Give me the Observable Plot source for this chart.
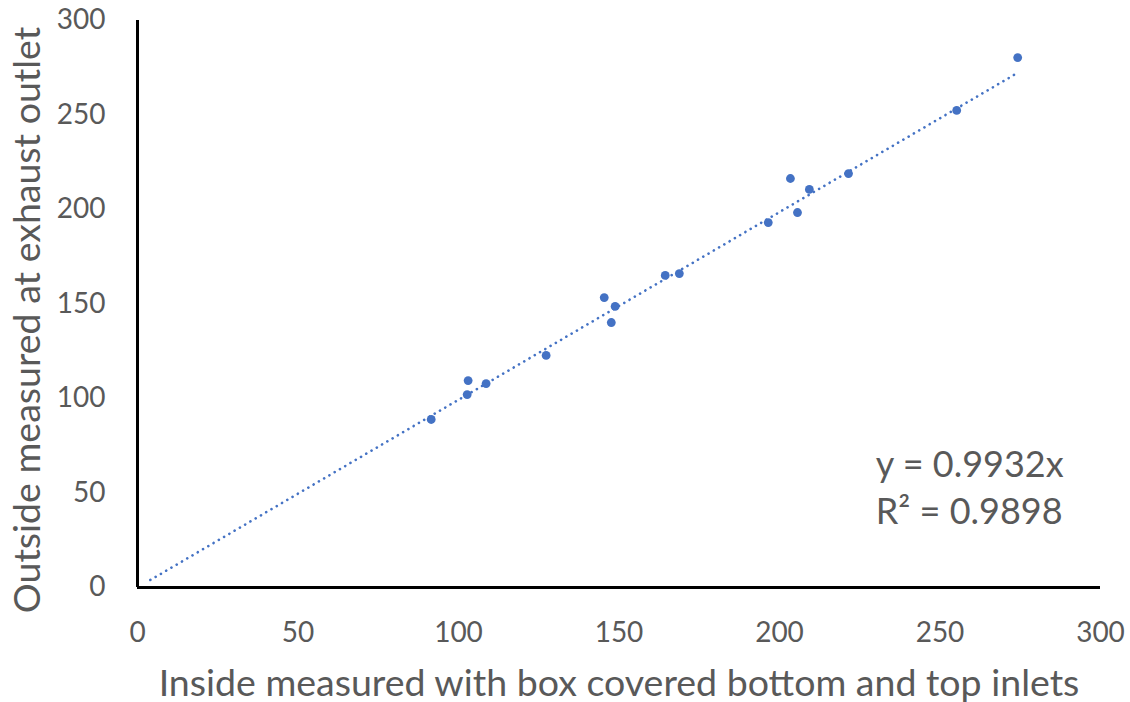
<!DOCTYPE html>
<html>
<head>
<meta charset="utf-8">
<script src="https://cdn.jsdelivr.net/npm/d3@7"></script>
<script src="https://cdn.jsdelivr.net/npm/@observablehq/plot@0.6"></script>
<style>
  html, body { margin: 0; padding: 0; background: #fff; }
  #chart svg { display: block; }
</style>
</head>
<body>
<div id="chart"></div>
<script>
const insideX = [91.5, 103.0, 102.7, 108.6, 127.3, 145.4, 148.8, 147.6, 164.4, 168.8, 196.5, 203.4, 205.6, 209.3, 221.5, 255.2, 274.2];
const outsideY = [88.9, 109.5, 102.1, 107.9, 122.8, 153.4, 148.7, 140.2, 165.1, 166.1, 193.1, 216.4, 198.4, 210.6, 219.0, 252.4, 280.4];
const trendSlope = 0.9932;
const trendRange = [4, 274];
const tickValues = [0, 50, 100, 150, 200, 250, 300];
const annotationLines = ["y = 0.9932x", "R² = 0.9898"];
const xTitle = "Inside measured with box covered bottom and top inlets";
const yTitle = "Outside measured at exhaust outlet";

const points = insideX.map((x, i) => ({x, y: outsideY[i]}));
const trend = trendRange.map(x => ({x, y: trendSlope * x}));
const annot = [
  {x: 230, y: 64.5, text: annotationLines[0]},
  {x: 230, y: 39.5, text: annotationLines[1]}
];

const blue = "#4472C4";
const grey = "#595959";
const font = "Lato, 'Open Sans', sans-serif";

const chart = Plot.plot({
  width: 1130,
  height: 702,
  marginLeft: 137,
  marginRight: 30,
  marginTop: 20,
  marginBottom: 115,
  style: {fontFamily: font, color: grey, background: "#fff"},
  x: {domain: [0, 300]},
  y: {domain: [0, 300]},
  marks: [
    Plot.line(trend, {x: "x", y: "y", stroke: blue, strokeWidth: 2.6, strokeDasharray: "0.1 6", strokeLinecap: "round"}),
    Plot.dot(points, {x: "x", y: "y", r: 4.4, fill: blue, stroke: "none"}),
    Plot.ruleY([0], {stroke: "#000", strokeWidth: 3}),
    Plot.ruleX([0], {stroke: "#000", strokeWidth: 3}),
    Plot.axisX(tickValues, {tickSize: 0, tickPadding: 35, fontSize: 28, fill: grey, label: null}),
    Plot.axisY(tickValues, {tickSize: 0, tickPadding: 32, fontSize: 28, fill: grey, label: null}),
    Plot.text([xTitle], {frameAnchor: "bottom", dy: 108, fontSize: 37.5, fill: grey}),
    Plot.text([yTitle], {frameAnchor: "left", textAnchor: "middle", dx: -110, dy: 16, rotate: -90, fontSize: 37.5, fill: grey}),
    Plot.text(annot, {x: "x", y: "y", text: "text", textAnchor: "start", fontSize: 36, fill: grey})
  ]
});
document.getElementById("chart").appendChild(chart);
</script>
</body>
</html>
